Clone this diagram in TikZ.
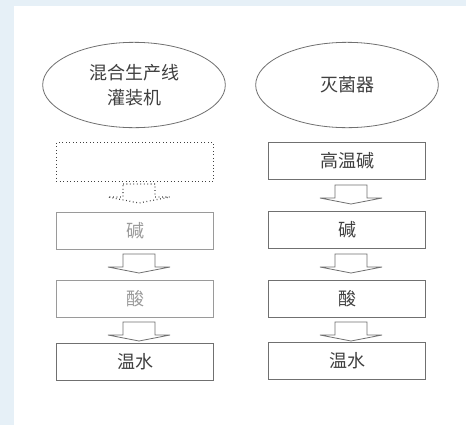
\documentclass[tikz,border=0pt]{standalone}
\usepackage{fontspec}
\setmainfont{Noto Sans CJK SC}
\usetikzlibrary{shapes.geometric}
\definecolor{frameblue}{HTML}{E6F0F7}
\definecolor{linegray}{HTML}{707070}
\definecolor{txtgray}{HTML}{404040}
\definecolor{fadegray}{HTML}{9A9A9A}
\tikzset{
  ell/.style={ellipse, draw=linegray, line width=0.6pt, minimum width=137pt, minimum height=64pt, align=center, text=txtgray, font=\fontsize{13.5pt}{19pt}\selectfont, inner sep=0pt},
  stepbox/.style={rectangle, draw=linegray, line width=0.6pt, minimum width=118pt, minimum height=28pt, text=txtgray, font=\fontsize{13.5pt}{18pt}\selectfont, inner sep=0pt},
  blockarrow/.style={draw=linegray, fill=white, line width=0.6pt, line join=miter}
}
\newcommand{\blkarrow}[3][]{% #2 = x centre, #3 = top y (px)
  \draw[blockarrow,#1] ({#2-16},{#3}) -- ({#2+16},{#3}) -- ({#2+16},{#3+13}) -- ({#2+31},{#3+13}) -- ({#2},{#3+19}) -- ({#2-31},{#3+13}) -- ({#2-16},{#3+13}) -- cycle;}
\begin{document}
\begin{tikzpicture}[x=0.75pt,y=-0.75pt]
\useasboundingbox (0,0) rectangle (466,425);
\fill[frameblue] (0,0) rectangle (466,425);
\fill[white] (14,6) rectangle (466,425);
% ellipses
\node[ell] (e1) at (134,85) {混合生产线\\灌装机};
\node[ell] (e2) at (347,85) {灭菌器};
% left column
\node[stepbox, draw=txtgray, dotted, line width=0.9pt, minimum height=29pt] (l0) at (135,162) {};
\node[stepbox, draw=fadegray, text=fadegray] (l1) at (135,231) {碱};
\node[stepbox, draw=fadegray, text=fadegray] (l2) at (135,299) {酸};
\node[stepbox] (l3) at (135,362) {温水};
% right column
\node[stepbox] (r0) at (347,161) {高温碱};
\node[stepbox] (r1) at (347,230) {碱};
\node[stepbox] (r2) at (347,299) {酸};
\node[stepbox] (r3) at (347,361) {温水};
% arrows
\blkarrow[dotted, draw=txtgray, line width=0.9pt]{139}{184}
\blkarrow{139}{254}
\blkarrow{139}{322}
\blkarrow{351}{185}
\blkarrow{351}{254}
\blkarrow{351}{322}
\end{tikzpicture}
\end{document}
